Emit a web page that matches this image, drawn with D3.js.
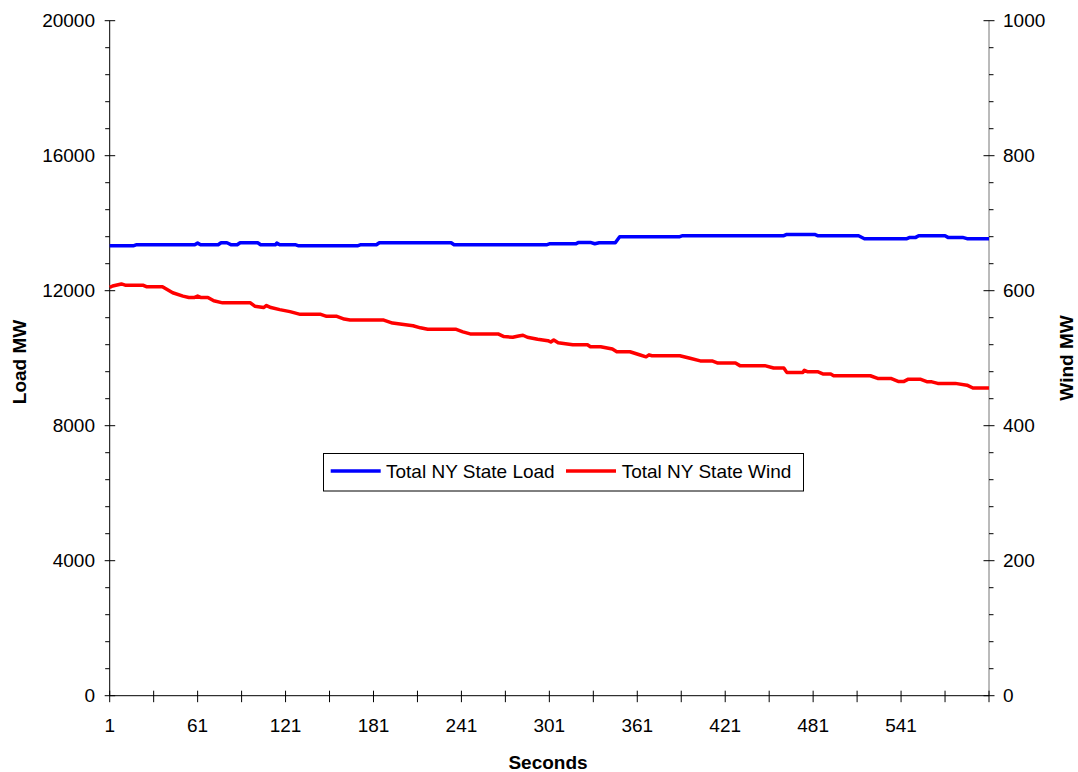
<!DOCTYPE html>
<html>
<head>
<meta charset="utf-8">
<script src="https://cdn.jsdelivr.net/npm/d3@7"></script>
<style>
  html, body { margin: 0; padding: 0; background: #fff; }
  svg { display: block; font-family: "Liberation Sans", Arial, sans-serif; }
</style>
</head>
<body>
<svg id="chart" width="1078" height="772"></svg>
<script>
// ---- Data ----
const loadSeconds = [1,17,19,59,61,63,75,77,81,84,88,90,102,104,114,115,117,128,130,170,172,183,185,234,236,299,301,319,321,329,332,335,346,349,390,392,461,463,482,484,512,516,545,547,551,553,571,573,583,586,601];
const loadMW      = [13330,13330,13360,13360,13410,13360,13360,13420,13420,13360,13360,13420,13420,13360,13360,13410,13360,13360,13330,13330,13360,13360,13420,13420,13360,13360,13390,13390,13430,13430,13390,13420,13420,13600,13600,13630,13630,13668,13668,13630,13630,13541,13541,13580,13580,13630,13630,13580,13580,13541,13541];

const windSeconds = [1,3,9,12,14,24,26,37,44,51,55,59,61,63,68,72,78,97,100,106,108,111,117,124,131,145,149,156,161,165,188,194,208,213,218,237,242,247,266,270,276,280,283,286,293,300,302,304,307,317,327,329,336,344,347,356,363,367,369,371,390,397,404,412,416,428,431,448,454,461,463,474,475,477,484,488,493,495,520,525,534,539,543,546,554,559,562,566,578,586,590,601];
const windMW      = [605,607,610,608,608,608,606,606,597,592,590,590,592,590,590,585,582,582,577,575,578,575,572,569,565,565,562,562,558,556.5,556.5,552,548,545,543,543,539,536,536,532,531,533,534,531,528,526,524,527,523,520,520,517,517,513.5,509.6,509.6,504.7,502,505,503.7,503.7,500,496,496,492.8,492.8,489,489,485.4,485.4,479,479,482,480,480,476.5,476.5,474,474,470,470,465.6,465.6,469,469,465,465,462.7,462.7,460,455.8,455.8];

const xTickValues  = [1,31,61,91,121,151,181,211,241,271,301,331,361,391,421,451,481,511,541,571,601];
const xTickLabels  = [1,61,121,181,241,301,361,421,481,541];
const leftTicks    = [0,4000,8000,12000,16000,20000];
const rightTicks   = [0,200,400,600,800,1000];
const seriesNames  = ["Total NY State Load", "Total NY State Wind"];
const seriesColors = ["#0000ff", "#ff0000"];

// ---- Layout ----
const svg = d3.select("#chart");
const X0 = 109.7, X1 = 989, Y0 = 695.7, Y1 = 20.7;

const x  = d3.scaleLinear().domain([1, 601]).range([X0, X1]);
const yL = d3.scaleLinear().domain([0, 20000]).range([Y0, Y1]);
const yR = d3.scaleLinear().domain([0, 1000]).range([Y0, Y1]);

const FS = 19;

// Left axis
const gL = svg.append("g");
gL.append("line").attr("x1", X0).attr("x2", X0).attr("y1", Y1).attr("y2", Y0).attr("stroke", "#000");
d3.range(0, 20001, 800).forEach(v => {
  const major = v % 4000 === 0;
  gL.append("line")
    .attr("x1", major ? X0 - 5 : X0 - 4.5).attr("x2", major ? X0 + 5.5 : X0)
    .attr("y1", yL(v)).attr("y2", yL(v)).attr("stroke", "#000");
});
leftTicks.forEach(v => {
  gL.append("text").attr("x", 95).attr("y", yL(v)).attr("dy", "0.35em")
    .attr("text-anchor", "end").attr("font-size", FS).text(v);
});

// Right axis
const gR = svg.append("g");
gR.append("line").attr("x1", X1).attr("x2", X1).attr("y1", Y1).attr("y2", Y0).attr("stroke", "#777");
d3.range(0, 1001, 40).forEach(v => {
  const major = v % 200 === 0;
  gR.append("line")
    .attr("x1", major ? X1 - 5.5 : X1).attr("x2", major ? X1 + 5.5 : X1 + 4.5)
    .attr("y1", yR(v)).attr("y2", yR(v)).attr("stroke", "#000");
});
rightTicks.forEach(v => {
  gR.append("text").attr("x", 1003).attr("y", yR(v)).attr("dy", "0.35em")
    .attr("text-anchor", "start").attr("font-size", FS).text(v);
});

// X axis
const gX = svg.append("g");
gX.append("line").attr("x1", X0).attr("x2", X1).attr("y1", Y0).attr("y2", Y0).attr("stroke", "#000");
xTickValues.forEach(v => {
  gX.append("line").attr("x1", x(v)).attr("x2", x(v))
    .attr("y1", Y0 - 5).attr("y2", Y0 + 6.5).attr("stroke", "#000");
});
xTickLabels.forEach(v => {
  gX.append("text").attr("x", x(v)).attr("y", 732)
    .attr("text-anchor", "middle").attr("font-size", FS).text(v);
});

// Axis titles
svg.append("text").attr("x", 548).attr("y", 769).attr("text-anchor", "middle")
  .attr("font-size", FS).attr("font-weight", "bold").text("Seconds");
svg.append("text").attr("transform", "translate(26,362) rotate(-90)").attr("text-anchor", "middle")
  .attr("font-size", FS).attr("font-weight", "bold").text("Load MW");
svg.append("text").attr("transform", "translate(1073,358) rotate(-90)").attr("text-anchor", "middle")
  .attr("font-size", FS).attr("font-weight", "bold").text("Wind MW");

// Lines
const loadData = loadSeconds.map((s, i) => ({s, v: loadMW[i]}));
const windData = windSeconds.map((s, i) => ({s, v: windMW[i]}));

svg.append("path").datum(loadData)
  .attr("fill", "none").attr("stroke", seriesColors[0]).attr("stroke-width", 3.5)
  .attr("stroke-linejoin", "round")
  .attr("d", d3.line().x(d => x(d.s)).y(d => yL(d.v)));
svg.append("path").datum(windData)
  .attr("fill", "none").attr("stroke", seriesColors[1]).attr("stroke-width", 3.5)
  .attr("stroke-linejoin", "round")
  .attr("d", d3.line().x(d => x(d.s)).y(d => yR(d.v)));

// Legend
const lg = svg.append("g");
lg.append("rect").attr("x", 323.5).attr("y", 453.5).attr("width", 480).attr("height", 37.5)
  .attr("fill", "#fff").attr("stroke", "#000");
const items = [{x1: 330.7, x2: 380.7, tx: 386}, {x1: 566, x2: 616, tx: 621.7}];
items.forEach((it, i) => {
  lg.append("line").attr("x1", it.x1).attr("x2", it.x2).attr("y1", 471).attr("y2", 471)
    .attr("stroke", seriesColors[i]).attr("stroke-width", 3.5);
  lg.append("text").attr("x", it.tx).attr("y", 471).attr("dy", "0.35em")
    .attr("font-size", FS).text(seriesNames[i]);
});
</script>
</body>
</html>
